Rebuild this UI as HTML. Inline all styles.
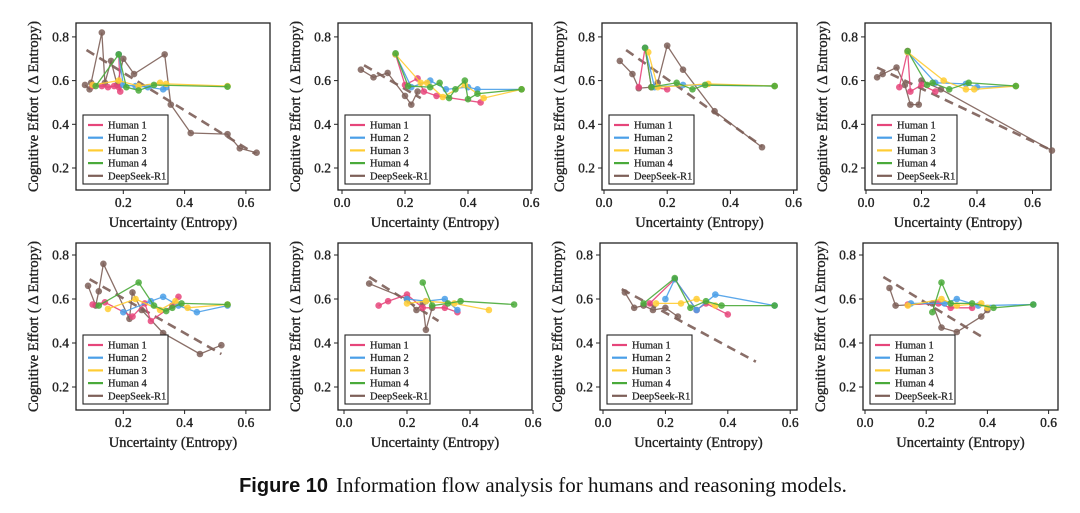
<!DOCTYPE html>
<html><head><meta charset="utf-8">
<style>
body{margin:0;background:#fff;}
svg{display:block;font-family:"Liberation Serif",serif;}
</style></head>
<body>
<svg id="fig" width="1080" height="513" viewBox="0 0 1080 513" xmlns="http://www.w3.org/2000/svg">
<text x="543" y="492" text-anchor="middle" font-size="21" fill="#111"><tspan font-family="Liberation Sans, sans-serif" font-weight="bold" font-size="20">Figure 10</tspan><tspan dx="8">Information flow analysis for humans and reasoning models.</tspan></text>
</svg>
<script>
const seriesNames = ["Human 1","Human 2","Human 3","Human 4","DeepSeek-R1"];
const seriesColors = ["#e6457a","#4a9fe8","#ffcc33","#4aaa3a","#7d5f58"];
const xTicks = [0.0,0.2,0.4,0.6];
const yTicks = [0.2,0.4,0.6,0.8];
// panel data: [x,y] pairs per series
const p1_h1=[[0.1,0.575],[0.13,0.575],[0.15,0.57],[0.17,0.575],[0.185,0.57],[0.19,0.55],[0.185,0.72]];
const p1_h2=[[0.185,0.72],[0.2,0.58],[0.24,0.575],[0.28,0.57],[0.33,0.56],[0.34,0.57]];
const p1_h3=[[0.1,0.58],[0.185,0.6],[0.25,0.575],[0.32,0.59],[0.34,0.585],[0.54,0.575]];
const p1_h4=[[0.11,0.575],[0.185,0.72],[0.21,0.57],[0.25,0.555],[0.3,0.58],[0.54,0.572]];
const p1_ds=[[0.075,0.58],[0.09,0.56],[0.095,0.59],[0.13,0.82],[0.14,0.59],[0.16,0.69],[0.18,0.58],[0.2,0.7],[0.235,0.63],[0.335,0.72],[0.355,0.49],[0.42,0.36],[0.54,0.355],[0.58,0.29],[0.635,0.27]];
const p1_trend=[[0.08,0.74],[0.63,0.265]];
const p2_h1=[[0.17,0.72],[0.2,0.58],[0.24,0.61],[0.26,0.55],[0.3,0.53],[0.44,0.5]];
const p2_h2=[[0.17,0.72],[0.22,0.57],[0.28,0.6],[0.33,0.56],[0.4,0.57],[0.43,0.56],[0.57,0.56]];
const p2_h3=[[0.17,0.72],[0.25,0.59],[0.27,0.59],[0.32,0.525],[0.39,0.58],[0.45,0.52],[0.57,0.56]];
const p2_h4=[[0.17,0.725],[0.21,0.575],[0.28,0.57],[0.31,0.59],[0.34,0.52],[0.36,0.56],[0.39,0.6],[0.4,0.515],[0.43,0.54],[0.57,0.56]];
const p2_ds=[[0.06,0.65],[0.1,0.615],[0.145,0.635],[0.2,0.53],[0.22,0.49],[0.24,0.55]];
const p2_trend=[[0.07,0.67],[0.25,0.52]];
const p3_h1=[[0.11,0.57],[0.13,0.75],[0.15,0.57],[0.2,0.56]];
const p3_h2=[[0.13,0.75],[0.16,0.57],[0.25,0.58],[0.54,0.575]];
const p3_h3=[[0.14,0.73],[0.17,0.57],[0.33,0.585],[0.54,0.575]];
const p3_h4=[[0.13,0.75],[0.15,0.57],[0.23,0.59],[0.28,0.56],[0.32,0.58],[0.54,0.575]];
const p3_ds=[[0.05,0.69],[0.09,0.63],[0.11,0.565],[0.15,0.57],[0.17,0.59],[0.2,0.76],[0.25,0.65],[0.35,0.46],[0.5,0.295]];
const p3_trend=[[0.07,0.74],[0.5,0.3]];
const p4_h1=[[0.12,0.57],[0.15,0.735],[0.16,0.55],[0.2,0.58],[0.25,0.55]];
const p4_h2=[[0.15,0.73],[0.25,0.59],[0.36,0.585],[0.4,0.57],[0.54,0.575]];
const p4_h3=[[0.15,0.73],[0.28,0.6],[0.36,0.56],[0.39,0.56],[0.54,0.575]];
const p4_h4=[[0.15,0.735],[0.22,0.58],[0.24,0.59],[0.3,0.56],[0.37,0.59],[0.54,0.575]];
const p4_ds=[[0.04,0.615],[0.06,0.63],[0.11,0.66],[0.14,0.58],[0.16,0.49],[0.19,0.49],[0.2,0.6],[0.27,0.56],[0.67,0.28]];
const p4_trend=[[0.04,0.66],[0.67,0.28]];
const p5_h1=[[0.1,0.575],[0.14,0.585],[0.23,0.52],[0.27,0.58],[0.29,0.5],[0.36,0.57],[0.38,0.61]];
const p5_h2=[[0.2,0.54],[0.29,0.59],[0.33,0.61],[0.38,0.57],[0.44,0.54],[0.54,0.57]];
const p5_h3=[[0.15,0.555],[0.24,0.6],[0.32,0.55],[0.37,0.59],[0.41,0.56],[0.54,0.575]];
const p5_h4=[[0.12,0.57],[0.25,0.675],[0.3,0.57],[0.34,0.545],[0.36,0.56],[0.39,0.58],[0.54,0.575]];
const p5_ds=[[0.085,0.66],[0.11,0.57],[0.12,0.635],[0.135,0.76],[0.22,0.51],[0.23,0.63],[0.26,0.55],[0.33,0.445],[0.45,0.35],[0.52,0.39]];
const p5_trend=[[0.09,0.69],[0.52,0.35]];
const p6_h1=[[0.11,0.57],[0.14,0.59],[0.2,0.62],[0.25,0.56],[0.32,0.56],[0.36,0.54]];
const p6_h2=[[0.2,0.6],[0.26,0.59],[0.32,0.6],[0.36,0.55]];
const p6_h3=[[0.2,0.58],[0.26,0.59],[0.35,0.58],[0.46,0.55]];
const p6_h4=[[0.25,0.675],[0.28,0.57],[0.33,0.58],[0.37,0.59],[0.54,0.575]];
const p6_ds=[[0.08,0.67],[0.2,0.6],[0.23,0.55],[0.25,0.58],[0.26,0.46],[0.28,0.56]];
const p6_trend=[[0.08,0.7],[0.3,0.5]];
const p7_h1=[[0.15,0.58],[0.23,0.69],[0.3,0.55],[0.33,0.58],[0.4,0.53]];
const p7_h2=[[0.2,0.6],[0.23,0.69],[0.3,0.55],[0.36,0.62],[0.55,0.57]];
const p7_h3=[[0.17,0.58],[0.25,0.58],[0.3,0.6],[0.36,0.57]];
const p7_h4=[[0.13,0.58],[0.23,0.695],[0.28,0.56],[0.33,0.59],[0.38,0.57],[0.55,0.57]];
const p7_ds=[[0.07,0.63],[0.1,0.56],[0.13,0.57],[0.16,0.55],[0.2,0.56],[0.24,0.52]];
const p7_trend=[[0.06,0.645],[0.49,0.315]];
const p8_h1=[[0.14,0.575],[0.24,0.58],[0.28,0.56],[0.35,0.56]];
const p8_h2=[[0.15,0.58],[0.26,0.58],[0.3,0.6],[0.37,0.57],[0.55,0.575]];
const p8_h3=[[0.14,0.57],[0.25,0.6],[0.3,0.57],[0.38,0.58],[0.4,0.56]];
const p8_h4=[[0.22,0.54],[0.25,0.675],[0.28,0.58],[0.35,0.58],[0.42,0.56],[0.55,0.575]];
const p8_ds=[[0.08,0.65],[0.1,0.57],[0.22,0.58],[0.25,0.47],[0.3,0.45],[0.38,0.52],[0.4,0.55]];
const p8_trend=[[0.06,0.7],[0.38,0.43]];

const panelSeries=[[p1_h1,p1_h2,p1_h3,p1_h4,p1_ds,p1_trend],[p2_h1,p2_h2,p2_h3,p2_h4,p2_ds,p2_trend],[p3_h1,p3_h2,p3_h3,p3_h4,p3_ds,p3_trend],[p4_h1,p4_h2,p4_h3,p4_h4,p4_ds,p4_trend],[p5_h1,p5_h2,p5_h3,p5_h4,p5_ds,p5_trend],[p6_h1,p6_h2,p6_h3,p6_h4,p6_ds,p6_trend],[p7_h1,p7_h2,p7_h3,p7_h4,p7_ds,p7_trend],[p8_h1,p8_h2,p8_h3,p8_h4,p8_ds,p8_trend]];
const geom=[
 {l:76,r:270,x0:62,k:306.5,t:23,b:190,y02:168,ky:218.5},
 {l:338,r:532,x0:342,k:315,t:23,b:190,y02:168,ky:218.5},
 {l:602,r:797,x0:604,k:316,t:23,b:190,y02:168,ky:218.5},
 {l:865,r:1051,x0:866,k:277.5,t:23,b:190,y02:168,ky:218.5},
 {l:76,r:270,x0:62,k:306.5,t:243,b:410,y02:387,ky:220},
 {l:338,r:532,x0:344,k:315,t:243,b:410,y02:387,ky:220},
 {l:600,r:797,x0:603,k:312,t:243,b:410,y02:387,ky:220},
 {l:863,r:1058,x0:865,k:306,t:243,b:410,y02:387,ky:220}
];
const NS="http://www.w3.org/2000/svg";
const svg=document.getElementById('fig');
function mk(tag,attrs,parent){const e=document.createElementNS(NS,tag);for(const a in attrs)e.setAttribute(a,attrs[a]);(parent||svg).appendChild(e);return e;}
const TXT={fill:'#222',stroke:'#222','stroke-width':0.35};
geom.forEach((g,pi)=>{
 const xS=v=>g.x0+v*g.k;
 const yS=v=>g.y02-(v-0.2)*g.ky;
 const grp=mk('g',{});
 
 
 const box=mk('rect',{x:g.l,y:g.t,width:g.r-g.l,height:g.b-g.t,fill:'none',stroke:'#222','stroke-width':1.3},grp);
 
 
 xTicks.forEach(v=>{const x=xS(v);if(x<g.l-3||x>g.r+3)return;
  mk('line',{x1:x,x2:x,y1:g.b,y2:g.b+4,stroke:'#222'},grp);
  const t=mk('text',Object.assign({x:x,y:g.b+17,'text-anchor':'middle','font-size':13.5},TXT),grp);t.textContent=v.toFixed(1);
  
  
 });
 yTicks.forEach(v=>{const y=yS(v);
  mk('line',{x1:g.l-4,x2:g.l,y1:y,y2:y,stroke:'#222'},grp);
  const t=mk('text',Object.assign({x:g.l-7,y:y+4.5,'text-anchor':'end','font-size':13.5},TXT),grp);t.textContent=v.toFixed(1);
  
  
 });
 const xl=mk('text',Object.assign({x:(g.l+g.r)/2,y:g.b+37,'text-anchor':'middle','font-size':14.5},TXT),grp);xl.textContent='Uncertainty (Entropy)';
 
 
 const ly=g.l-38,cy=(g.t+g.b)/2;
 const yl=mk('text',Object.assign({x:ly,y:cy,'text-anchor':'middle','font-size':14.5,transform:`rotate(-90 ${ly} ${cy})`},TXT),grp);yl.textContent='Cognitive Effort ( Δ Entropy)';
 
 
 const ser=panelSeries[pi];
 const tr=ser[5];
 const tl=mk('line',{x1:xS(tr[0][0]),y1:yS(tr[0][1]),x2:xS(tr[1][0]),y2:yS(tr[1][1]),stroke:'#7d5f58','stroke-width':2.6,'stroke-dasharray':'9,6',opacity:0.9},grp);
 
 
 [4,0,1,2,3].forEach(si=>{
  const pts=ser[si];const c=seriesColors[si];
  const pl=mk('polyline',{points:pts.map(p=>xS(p[0])+','+yS(p[1])).join(' '),fill:'none',stroke:c,'stroke-width':1.3,opacity:0.9},grp);
  
  
  pts.forEach(p=>{const m=mk('circle',{cx:xS(p[0]),cy:yS(p[1]),r:3.3,fill:c,opacity:0.85},grp);
   
   });
 });
 const lx=g.l+7,lyy=g.b-75;
 const lg=mk('g',{},grp);
 
 
 mk('rect',{x:lx,y:lyy,width:85,height:69,fill:'#fff',stroke:'#222','stroke-width':1.1},lg);
 seriesNames.forEach((n,si)=>{const yy=lyy+10+si*12.7;
  mk('line',{x1:lx+5,x2:lx+20,y1:yy,y2:yy,stroke:seriesColors[si],'stroke-width':2.2},lg);
  const t=mk('text',Object.assign({x:lx+25,y:yy+3.5,'font-size':10.5},TXT,{'stroke-width':0.25}),lg);t.textContent=n;
  
  
 });
});
</script>
</body></html>
